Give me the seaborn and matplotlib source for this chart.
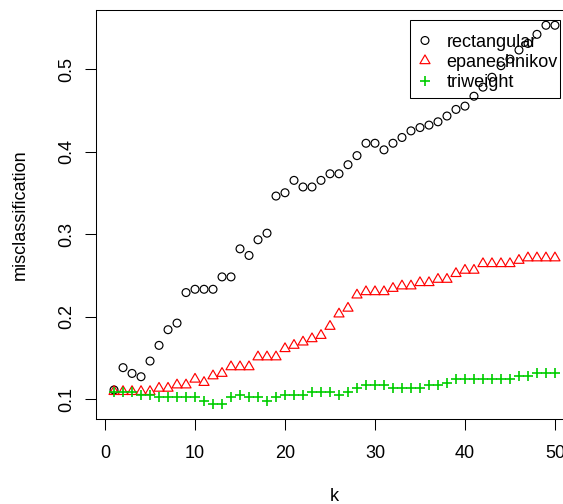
import numpy as np
import pandas as pd
import matplotlib
matplotlib.use("Agg")
import matplotlib.pyplot as plt
from matplotlib.path import Path
from matplotlib.patches import Rectangle
import seaborn as sns

# ---------------- data ----------------
k = list(range(1, 51))
rectangular = [0.111, 0.138, 0.131, 0.127, 0.146, 0.165, 0.184, 0.192, 0.229, 0.233,
               0.233, 0.233, 0.248, 0.248, 0.282, 0.274, 0.293, 0.301, 0.346, 0.350,
               0.365, 0.357, 0.357, 0.365, 0.373, 0.373, 0.384, 0.395, 0.410, 0.410,
               0.402, 0.410, 0.417, 0.425, 0.429, 0.432, 0.436, 0.443, 0.451, 0.455,
               0.467, 0.478, 0.490, 0.504, 0.512, 0.523, 0.531, 0.542, 0.553, 0.553]
epanechnikov = [0.109, 0.109, 0.109, 0.109, 0.109, 0.113, 0.113, 0.117, 0.117, 0.124,
                0.120, 0.128, 0.131, 0.139, 0.139, 0.139, 0.151, 0.151, 0.151, 0.161,
                0.165, 0.169, 0.173, 0.177, 0.188, 0.203, 0.210, 0.226, 0.230, 0.230,
                0.230, 0.234, 0.237, 0.237, 0.241, 0.241, 0.245, 0.245, 0.252, 0.256,
                0.256, 0.264, 0.264, 0.264, 0.264, 0.268, 0.271, 0.271, 0.271, 0.271]
triweight = [0.108, 0.108, 0.108, 0.105, 0.105, 0.102, 0.102, 0.102, 0.102, 0.102,
             0.0975, 0.0935, 0.0935, 0.102, 0.105, 0.102, 0.102, 0.0975, 0.102, 0.105,
             0.105, 0.105, 0.109, 0.109, 0.109, 0.105, 0.109, 0.113, 0.117, 0.117,
             0.117, 0.113, 0.113, 0.113, 0.113, 0.117, 0.117, 0.120, 0.124, 0.124,
             0.124, 0.124, 0.124, 0.124, 0.124, 0.128, 0.128, 0.132, 0.132, 0.132]
series_names = ["rectangular", "epanechnikov", "triweight"]
x_ticks = [0, 10, 20, 30, 40, 50]
x_tick_labels = ["0", "10", "20", "30", "40", "50"]
y_ticks = [0.1, 0.2, 0.3, 0.4, 0.5]
y_tick_labels = ["0.1", "0.2", "0.3", "0.4", "0.5"]
x_label = "k"
y_label = "misclassification"

# ---------------- style ----------------
plt.rcParams['font.family'] = ['Liberation Sans', 'DejaVu Sans']
FS = 13

W, H = 563, 504
fig = plt.figure(figsize=(W / 100, H / 100), dpi=100)
L, R, T, B = 96.4, 572.6, 10, 419
ax = fig.add_axes([L / W, 1 - B / H, (R - L) / W, (B - T) / H])

df = pd.DataFrame({
    "k": k * 3,
    "value": rectangular + epanechnikov + triweight,
    "kernel": sum([[n] * len(k) for n in series_names], []),
})

# R-style triangle (centroid-ish centre)
tri_path = Path([(0, 1.555), (1.347, -0.778), (-1.347, -0.778), (0, 1.555)],
                [Path.MOVETO, Path.LINETO, Path.LINETO, Path.CLOSEPOLY])

sns.scatterplot(data=df[df.kernel == "rectangular"], x="k", y="value", ax=ax,
                marker="o", s=32, facecolor="none", edgecolor="black",
                linewidth=0.85, label="rectangular", zorder=3)
sns.scatterplot(data=df[df.kernel == "epanechnikov"], x="k", y="value", ax=ax,
                marker=tri_path, s=70, facecolor="none", edgecolor="#FF0000",
                linewidth=0.85, label="epanechnikov", zorder=3)
sns.scatterplot(data=df[df.kernel == "triweight"], x="k", y="value", ax=ax,
                marker="+", s=60, color="#00CD00",
                linewidth=1.2, label="triweight", zorder=3)

ax.set_xlim(-0.96, 51.96)
ax.set_ylim(0.1 - 20 / 825, 0.1 + 389 / 825)

ax.set_xticks(x_ticks)
ax.set_xticklabels(x_tick_labels)
ax.set_yticks(y_ticks)
ax.set_yticklabels(y_tick_labels, rotation=90, va="center")
ax.tick_params(axis="both", direction="out", length=7.7, width=0.75,
               color="black", labelsize=FS, labelcolor="black")
ax.tick_params(axis="x", pad=11.0)
ax.tick_params(axis="y", pad=7.4)
for sp in ax.spines.values():
    sp.set_linewidth(0.75)
    sp.set_color("black")
ax.set_xlabel("")
ax.set_ylabel("")
ax.grid(False)

fig.text(25 / W, 1 - 214.5 / H, y_label, rotation=90, rotation_mode="anchor",
         ha="center", va="baseline", fontsize=FS)
fig.text(334.5 / W, 1 - 501 / H, x_label, ha="center", va="baseline", fontsize=FS)

# legend box (drawn under points, like the reference)
box = Rectangle((410 / W, 1 - 98 / H), 150 / W, 78 / H, transform=fig.transFigure,
                facecolor="white", edgecolor="black", linewidth=0.75, zorder=1.2)
ax.add_patch(box)
ax.set_xlim(-0.96, 51.96)
ax.set_ylim(0.1 - 20 / 825, 0.1 + 389 / 825)

leg = ax.legend(loc="upper left", bbox_to_anchor=(410 / W, 1 - 20 / H),
                bbox_transform=fig.transFigure, borderaxespad=0,
                borderpad=0.765, handlelength=0.13, handletextpad=1.135,
                labelspacing=0.18, fontsize=FS, frameon=False,
                scatterpoints=1, scatteryoffsets=[0.5])
leg.set_zorder(1.5)

fig.savefig("out.png", dpi=100)
